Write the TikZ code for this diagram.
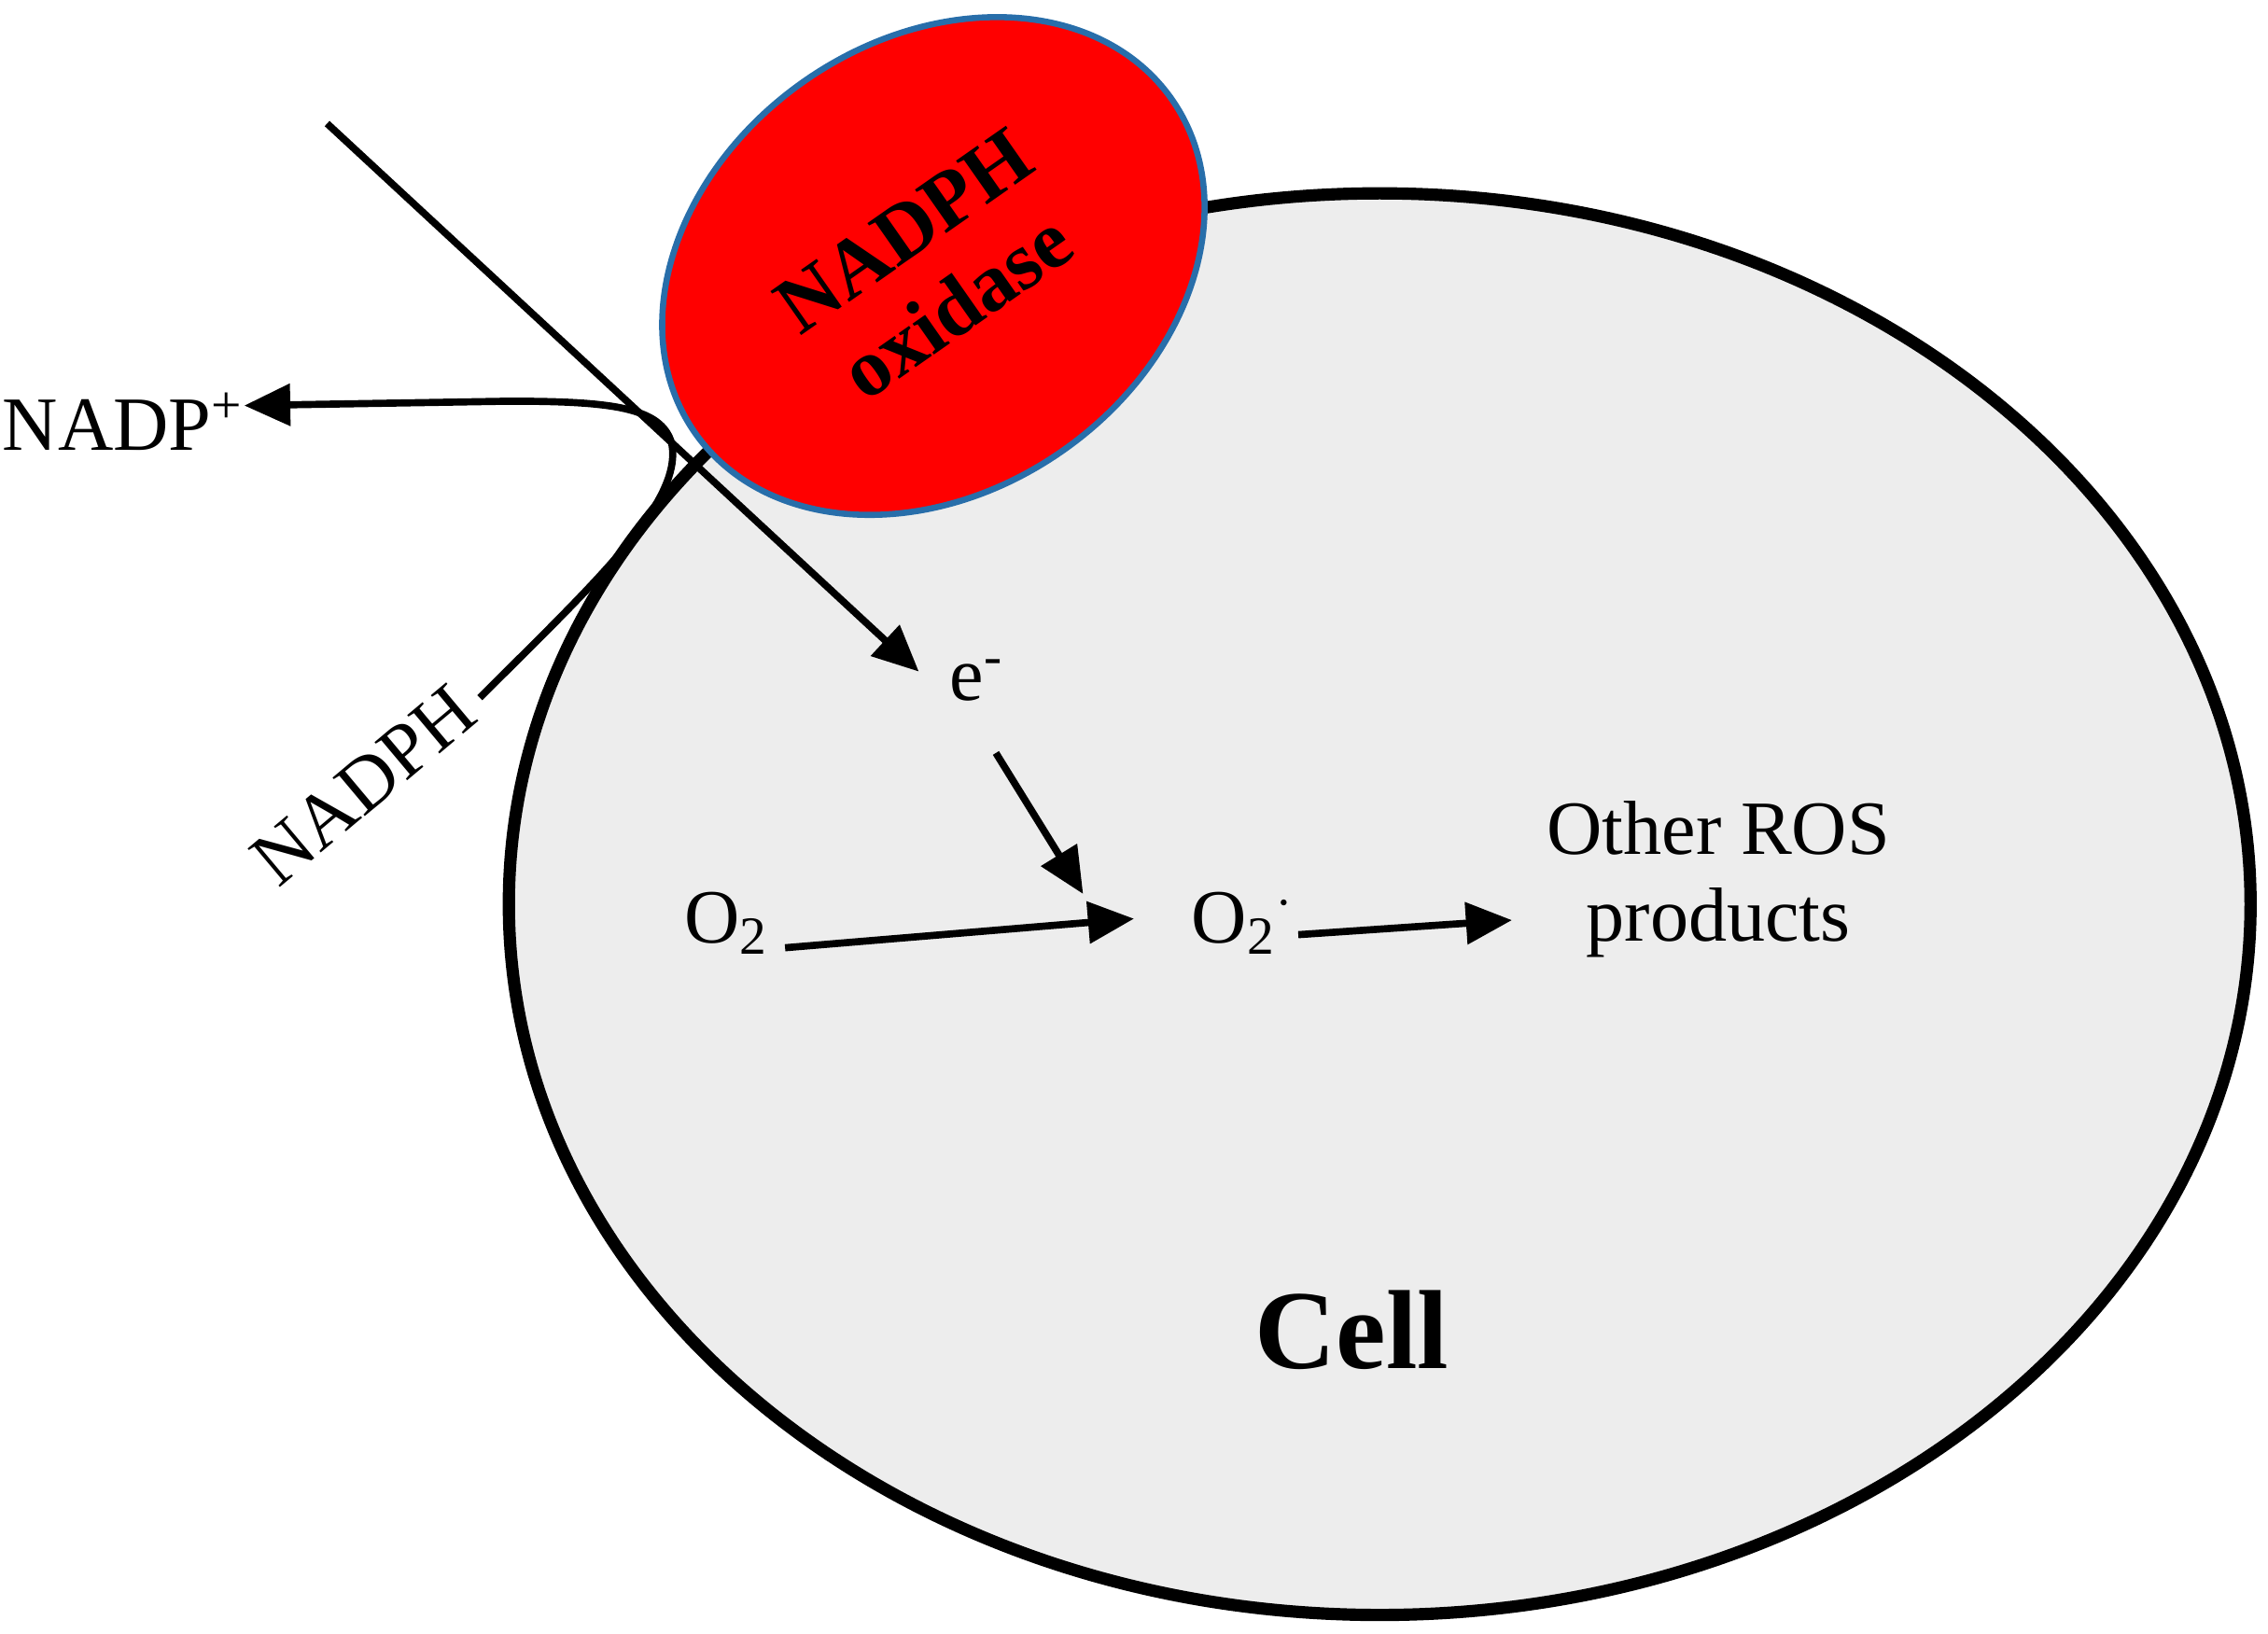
\documentclass[tikz,border=0pt]{standalone}
\usepackage{fontspec}
\setmainfont{Liberation Serif}
\usetikzlibrary{arrows.meta,shapes.geometric}
\begin{document}
\begin{tikzpicture}[x=0.01cm,y=-0.01cm,
  txt/.style={font=\fontsize{15}{17}\selectfont, inner sep=1pt},
  flow/.style={line width=1.4pt, -{Triangle[length=9pt,width=8pt]}}]
\useasboundingbox (0,0) rectangle (1560,1124);

% cell and enzyme
\draw[line width=2.4pt, fill=gray!14] (949,622) ellipse [x radius=599, y radius=489];
\node[ellipse, draw={rgb,255:red,40;green,110;blue,170}, line width=1.2pt, fill=red,
  minimum width=4cm, minimum height=3.1cm, inner sep=0pt, rotate=35] (nox) at (642,183) {};
\node[rotate=35, align=center, font=\fontsize{16}{18}\selectfont\bfseries] at (640,185) {NADPH\\oxidase};

% labels
\node[txt, anchor=center] (nadpp) at (85,290) {NADP\textsuperscript{+}};
\node[txt, rotate=40] (nadph) at (250,540) {NADPH};
\node[txt] (e) at (672,468) {e\textsuperscript{-}};
\node[txt] (o2) at (500,635) {O\textsubscript{2}};
\node[txt] (sup) at (855,635) {O\textsubscript{2}\textsuperscript{$\cdot$}};
\node[txt, align=center] (ros) at (1182,605) {Other ROS\\products};
\node[font=\fontsize{22}{24}\selectfont\bfseries] (cell) at (930,915) {Cell};

% connectors
\coordinate (top) at (225,85);
\draw[flow] (top) -- (632,462);
\draw[line width=1.4pt, -{Triangle[length=9pt,width=8pt]}] (330,480)
  .. controls (410,400) and (470,345) .. (462,305)
  .. controls (455,280) and (420,276) .. (350,276)
  -- (168,279);
\draw[flow] (685,518) -- (745,615);
\draw[flow] (540,652) -- (780,632);
\draw[flow] (893,643) -- (1040,633);
\end{tikzpicture}
\end{document}
